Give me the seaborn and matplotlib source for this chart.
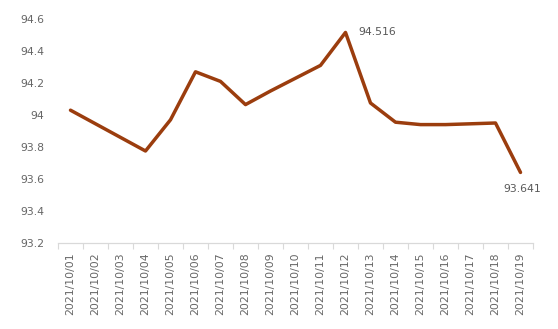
import matplotlib
matplotlib.use("Agg")
import matplotlib.pyplot as plt
import seaborn as sns
import pandas as pd
import numpy as np

dates = ["2021/10/01", "2021/10/02", "2021/10/03", "2021/10/04", "2021/10/05",
         "2021/10/06", "2021/10/07", "2021/10/08", "2021/10/09", "2021/10/10",
         "2021/10/11", "2021/10/12", "2021/10/13", "2021/10/14", "2021/10/15",
         "2021/10/16", "2021/10/17", "2021/10/18", "2021/10/19"]
values = [94.03, 93.945, 93.86, 93.775, 93.97,
          94.27, 94.21, 94.065, 94.15, 94.23,
          94.31, 94.516, 94.075, 93.955, 93.94,
          93.94, 93.945, 93.95, 93.641]
y_ticks = [93.2, 93.4, 93.6, 93.8, 94.0, 94.2, 94.4, 94.6]
y_tick_labels = ["93.2", "93.4", "93.6", "93.8", "94", "94.2", "94.4", "94.6"]

sns.set_theme(style="white")
plt.rcParams['font.family'] = ['DejaVu Sans']

df = pd.DataFrame({"date": dates, "value": values, "x": np.arange(len(dates))})

fig = plt.figure(figsize=(5.58, 3.29), dpi=100)
ax = fig.add_axes([58/558, 1-243/329, 475/558, (243-19)/329])

sns.lineplot(data=df, x="x", y="value", ax=ax, color="#9B3D0E", linewidth=2.5)

ax.set_xlim(-0.5, len(dates) - 0.5)
ax.set_ylim(93.2, 94.6)
ax.set_yticks(y_ticks)
ax.set_yticklabels(y_tick_labels)
ax.set_xticks(df["x"])
ax.set_xticklabels(dates, rotation=90)
ax.set_xticks(np.arange(-0.5, len(dates), 1.0), minor=True)
ax.tick_params(axis="x", which="major", length=0, pad=7, labelsize=7.8, colors="#666666")
ax.tick_params(axis="x", which="minor", length=4, width=0.8, color="#D9D9D9", bottom=True)
ax.tick_params(axis="y", length=0, pad=10, labelsize=7.8, colors="#666666")
ax.set_xlabel("")
ax.set_ylabel("")

for s in ["top", "right", "left"]:
    ax.spines[s].set_visible(False)
ax.spines["bottom"].set_color("#D9D9D9")
ax.spines["bottom"].set_linewidth(0.9)

imax = int(np.argmax(values))
ax.annotate(f"{values[imax]:.3f}", (df["x"][imax], values[imax]), xytext=(9, 0),
            textcoords="offset points", ha="left", va="center", fontsize=7.8, color="#595959")
ilast = len(values) - 1
ax.annotate(f"{values[ilast]:.3f}", (df["x"][ilast], values[ilast]), xytext=(1, -8),
            textcoords="offset points", ha="center", va="top", fontsize=7.8, color="#595959")

fig.savefig("out.png", dpi=100)
